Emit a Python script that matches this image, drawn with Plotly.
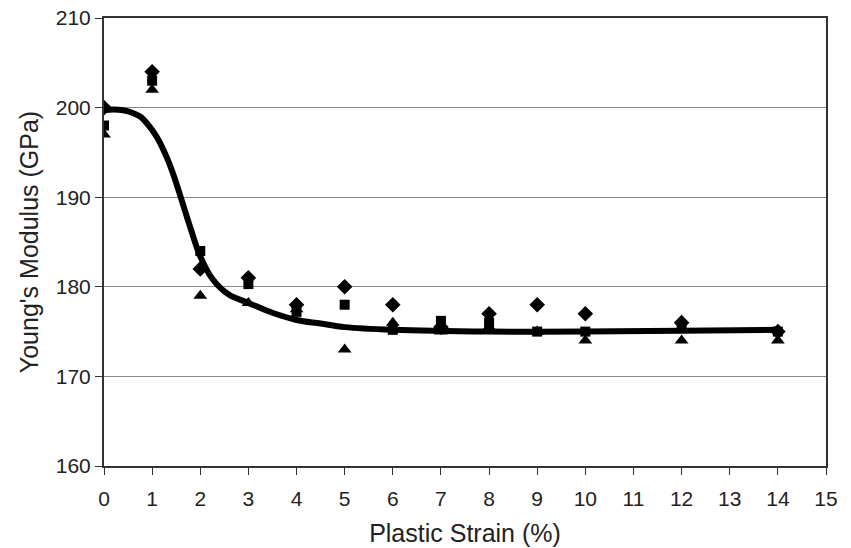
import plotly.graph_objects as go

strain = [0, 1, 2, 3, 4, 5, 6, 7, 8, 9, 10, 12, 14]
modulus_diamond = [200, 204, 182, 181, 178, 180, 178, 175.5, 177, 178, 177, 176, 175]
modulus_square = [198, 203, 184, 180.3, 177.2, 178, 175.2, 176.2, 176, 175, 175, 175.5, 175]
modulus_triangle = [197, 202, 179, 178.2, 177.5, 173, 176, 175, 175.5, 175, 174, 174, 174]

fit_x = [0, 0.2, 0.4, 0.6, 0.75, 0.9, 1.1, 1.3, 1.45, 1.6, 1.8, 2.0, 2.25, 2.6, 3.0, 3.5, 4.0, 4.5, 5.0, 6.0, 8.0, 10.0, 12.0, 14.0]
fit_y = [199.7, 199.8, 199.7, 199.4, 199.0, 198.2, 196.7, 194.5, 192.4, 189.9, 186.5, 183.4, 180.9, 179.1, 178.2, 177.1, 176.3, 175.9, 175.5, 175.2, 175.0, 175.0, 175.1, 175.2]

x_ticks = list(range(0, 16))
y_ticks = [160, 170, 180, 190, 200, 210]

fig = go.Figure()
fig.add_trace(go.Scatter(x=strain, y=modulus_diamond, mode="markers",
                         marker=dict(symbol="diamond", size=12, color="black"), showlegend=False))
fig.add_trace(go.Scatter(x=strain, y=modulus_square, mode="markers",
                         marker=dict(symbol="square", size=10, color="black"), showlegend=False))
fig.add_trace(go.Scatter(x=strain, y=modulus_triangle, mode="markers",
                         marker=dict(symbol="triangle-up", size=12, color="black"), showlegend=False))
fig.add_trace(go.Scatter(x=fit_x, y=fit_y, mode="lines",
                         line=dict(color="black", width=6, shape="spline", smoothing=1.0), showlegend=False))

fam = "Liberation Sans, Arial, sans-serif"
tick_font = dict(family=fam, size=21, color="#222")
title_font = dict(family=fam, size=25, color="#222")
fig.update_layout(
    width=851, height=548,
    margin=dict(l=104, r=25, t=18, b=82),
    paper_bgcolor="white", plot_bgcolor="white",
    font=tick_font,
)
fig.update_xaxes(range=[0, 15], tickvals=x_ticks, ticks="outside", ticklen=7, tickcolor="#333",
                 showline=True, linecolor="#333", linewidth=2, mirror=True, showgrid=False,
                 zeroline=False, ticklabelstandoff=6, automargin=False,
                 title=dict(text="Plastic Strain (%)", font=title_font, standoff=15),
                 tickfont=tick_font)
fig.update_yaxes(range=[160, 210], tickvals=y_ticks, ticks="outside", ticklen=7, tickcolor="#333",
                 showline=True, linecolor="#333", linewidth=2, mirror=True, showgrid=True,
                 gridcolor="#888", gridwidth=1, zeroline=False, automargin=False,
                 title=dict(text="Young's Modulus (GPa)", font=title_font, standoff=10),
                 tickfont=tick_font)

fig.write_html("out.html")
